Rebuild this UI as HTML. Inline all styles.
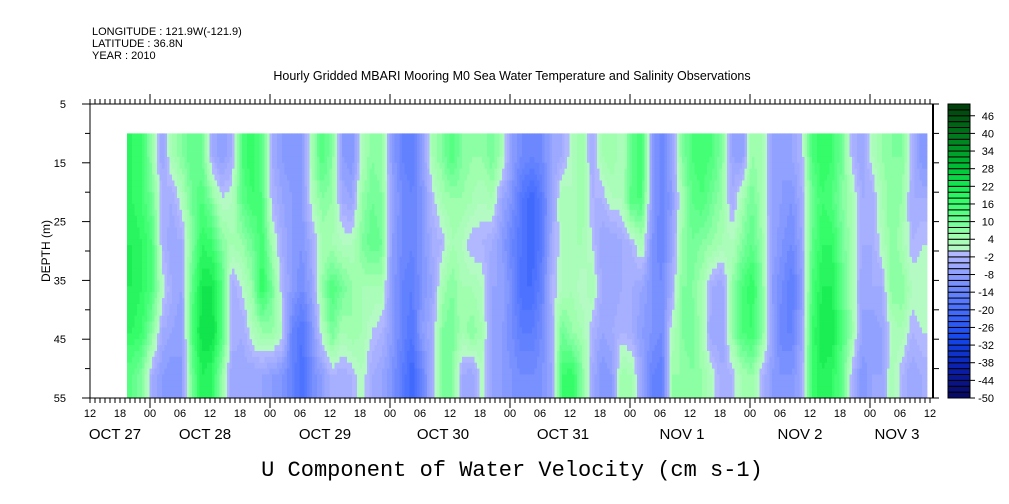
<!DOCTYPE html>
<html><head><meta charset="utf-8"><style>
body{margin:0;background:#fff;}
svg{display:block;font-family:"Liberation Sans",sans-serif;}
</style></head><body>
<svg id="chart" width="1009" height="504" xmlns="http://www.w3.org/2000/svg">
<text x="92" y="35" font-size="11">LONGITUDE : 121.9W(-121.9)</text>
<text x="92" y="47" font-size="11">LATITUDE : 36.8N</text>
<text x="92" y="59" font-size="11">YEAR : 2010</text>
<text x="512" y="80" font-size="12.5" text-anchor="middle">Hourly Gridded MBARI Mooring M0 Sea Water Temperature and Salinity Observations</text>
<g id="heat"></g>
<g id="axes"></g>
<g id="cbar"></g>
<text transform="translate(50,251) rotate(-90)" font-size="12" text-anchor="middle">DEPTH (m)</text>
<text x="512" y="476" font-size="22" font-family="Liberation Mono, monospace" text-anchor="middle">U Component of Water Velocity (cm s-1)</text>
</svg>
<script>
// data grid: columns every 2 hours starting 19.4h after Oct 27 00:00 ; rows at depths
const depths=[13.75,21.25,28.75,36.25,43.75,51.25];
const startHour=19.4, stepHour=2;
const row1=[18,16,6,-6,4,8,12,10,-4,-8,-4,14,18,12,-4,-8,-10,-8,4,14,8,-8,-10,2,8,6,-8,-14,-16,-8,4,8,14,8,6,6,10,4,-8,-12,-14,-12,-6,-4,2,6,-4,4,6,2,12,16,-8,-14,-6,8,14,16,14,8,-6,-8,6,4,-6,-8,-6,-2,14,18,16,10,-2,-6,2,6,8,8,-2,-10];
const row2=[18,16,10,-2,-4,2,10,14,8,0,2,12,16,14,-2,-6,-8,-8,2,8,6,-4,-6,6,10,8,-6,-12,-14,-10,-2,4,6,6,4,2,4,-6,-10,-18,-22,-16,-6,4,2,6,-2,-2,2,2,14,14,-8,-14,-8,4,12,14,10,6,-4,4,10,4,-6,-8,-10,-4,10,16,14,8,4,-4,-4,4,8,6,-4,-4];
const row3=[20,18,14,-2,-6,-4,8,18,16,8,4,6,10,16,4,-4,-8,-10,-4,4,4,2,2,8,12,10,-8,-12,-14,-10,-4,-2,4,2,-2,-2,-4,-8,-14,-18,-22,-16,-4,2,4,4,0,-6,-6,-4,-2,4,-10,-14,-6,6,10,8,6,4,2,8,12,6,-6,-10,-12,-6,12,18,18,10,4,-4,-4,2,8,4,-2,0];
const row4=[20,18,14,2,-4,-6,12,22,22,14,-4,0,6,18,10,-2,-8,-12,-6,6,14,10,6,4,4,4,-8,-14,-16,-10,-6,4,8,4,4,2,-6,-6,-12,-20,-20,-14,-2,2,4,0,4,-4,-6,-4,-4,-6,-10,-12,-4,8,8,4,-4,-6,6,14,18,8,-8,-12,-16,-8,14,20,20,12,4,-6,-4,-4,8,8,2,2];
const row5=[18,16,8,-4,-6,-8,14,24,24,14,-2,-4,2,6,6,2,-14,-18,-10,2,10,4,6,4,0,-2,-8,-14,-18,-8,-4,8,10,4,8,4,-6,-8,-12,-16,-16,-12,-4,10,6,4,-2,-6,-4,-2,-4,-8,-10,-12,2,8,10,4,-6,-6,6,14,16,8,-6,-14,-14,-6,16,22,22,14,6,-6,-8,-6,2,4,-2,0];
const row6=[12,8,-4,-8,-10,-8,10,20,18,6,-6,-6,-6,-6,-8,-10,-14,-20,-12,-8,-2,-4,-2,2,-4,-6,-10,-16,-22,-14,-4,8,8,-4,-6,2,-6,-8,-10,-12,-12,-10,-6,16,18,8,-4,-10,-8,6,4,-6,-14,-16,6,6,8,6,2,-4,-2,4,6,-2,-8,-10,-10,-4,16,20,18,12,-2,-10,-6,-6,4,-2,-6,-4];
const cbarLevels=[-50,-44,-38,-32,-26,-20,-14,-8,-2,4,10,16,22,28,34,40,46];
const xTickLabels=["12","18","00","06","12","18","00","06","12","18","00","06","12","18","00","06","12","18","00","06","12","18","00","06","12","18","00","06","12"];
const dateLabels=["OCT 27","OCT 28","OCT 29","OCT 30","OCT 31","NOV  1","NOV  2","NOV  3"];
const depthTicks=[5,15,25,35,45,55];

const NS="http://www.w3.org/2000/svg";
const X0=90,X1=933,Y0=104,Y1=398;
const xh=h=>X0+(h-12)*5;
const yd=d=>Y0+(d-5)*(Y1-Y0)/50;
const stops=[[-50,[8,8,96]],[-40,[10,30,170]],[-30,[20,70,235]],[-20,[70,110,255]],[-12,[115,140,255]],[-6,[150,165,255]],[-1,[178,184,255]],[1,[180,250,195]],[5,[160,255,175]],[10,[110,255,150]],[16,[60,255,110]],[22,[20,235,80]],[28,[0,195,55]],[34,[0,155,40]],[40,[0,115,25]],[50,[0,60,10]]];
function color(v){
  v=Math.max(-50,Math.min(49.9,v));
  let q=Math.floor(v/2)*2+1;
  for(let i=0;i<stops.length-1;i++){const a=stops[i],b=stops[i+1];
    if(q>=a[0]&&q<=b[0]){const t=(q-a[0])/(b[0]-a[0]);
      return "rgb("+a[1].map((c,k)=>Math.round(c+(b[1][k]-c)*t)).join(",")+")";}}
  return "rgb(0,60,10)";
}
function mk(tag,attrs,parent){const e=document.createElementNS(NS,tag);for(const k in attrs)e.setAttribute(k,attrs[k]);parent.appendChild(e);return e;}
const rows=[row1,row2,row3,row4,row5,row6];
const heat=document.getElementById('heat');
const nCols=row1.length;
function val(c,d){
  let r=0;while(r<depths.length-2&&d>depths[r+1])r++;
  let t=(d-depths[r])/(depths[r+1]-depths[r]);t=Math.max(0,Math.min(1,t));
  const c0=Math.max(0,Math.min(nCols-1,Math.floor(c))),c1=Math.min(nCols-1,c0+1);let u=Math.max(0,Math.min(1,c-c0));
  const a=rows[r][c0]*(1-t)+rows[r+1][c0]*t, b=rows[r][c1]*(1-t)+rows[r+1][c1]*t;
  return a*(1-u)+b*u;
}
const subX=4, subY=45;
for(let i=0;i<nCols*subX;i++){
  const h0=startHour+i*stepHour/subX, h1=h0+stepHour/subX;
  const cc=(i+0.5)/subX-0.5;
  for(let j=0;j<subY;j++){
    const d0=10+j*45/subY,d1=d0+45/subY;
    const v=val(cc,(d0+d1)/2);
    const r=mk('rect',{x:xh(h0).toFixed(2),y:yd(d0).toFixed(2),width:(xh(h1)-xh(h0)+0.4).toFixed(2),height:(yd(d1)-yd(d0)+0.4).toFixed(2),fill:color(v)},heat);
    
    
  }
}
const ax=document.getElementById('axes');
mk('rect',{x:X0,y:Y0,width:X1-X0,height:Y1-Y0,fill:'none',stroke:'#000','stroke-width':1},ax);
mk('line',{x1:X1,y1:Y0,x2:X1,y2:Y1,stroke:'#000','stroke-width':2},ax);
for(let h=12;h<=180;h++){
  const x=xh(h); if(x>X1+0.5)break;
  const major=(h%24===0);
  mk('line',{x1:x,y1:Y0,x2:x,y2:Y0-(major?10:5),stroke:'#000'},ax);
  mk('line',{x1:x,y1:Y1,x2:x,y2:Y1+(major?10:5),stroke:'#000'},ax);
}
xTickLabels.forEach((s,i)=>{const t=mk('text',{x:xh(12+i*6),y:417,'font-size':11,'text-anchor':'middle'},ax);t.textContent=s;
  });
const datePos=[115,205,325,443,563,682,800,897];
dateLabels.forEach((s,i)=>{const t=mk('text',{x:datePos[i],y:439,'font-size':15,'text-anchor':'middle','xml:space':'preserve'},ax);t.textContent=s;
  });
for(let d=5;d<=55;d+=5){const y=yd(d);
  mk('line',{x1:X0,y1:y,x2:X0-(d%10===5?8:5),y2:y,stroke:'#000'},ax);
  mk('line',{x1:X1,y1:y,x2:X1+6,y2:y,stroke:'#000'},ax);}
depthTicks.forEach(d=>{const t=mk('text',{x:66,y:yd(d)+4,'font-size':11,'text-anchor':'end'},ax);t.textContent=d;
  });
const cb=document.getElementById('cbar');
const CX=948,CW=22,cy=v=>Y1-(v+50)*(Y1-Y0)/100;
for(let v=-50;v<50;v+=2){
  const r=mk('rect',{x:CX,y:cy(v+2),width:CW,height:cy(v)-cy(v+2),fill:color(v+1),stroke:'#000','stroke-width':1},cb);
  
}
cbarLevels.forEach(v=>{const y=cy(v);
  mk('line',{x1:CX+CW,y1:y,x2:CX+CW+5,y2:y,stroke:'#000'},cb);
  const t=mk('text',{x:994,y:y+4,'font-size':11,'text-anchor':'end'},cb);t.textContent=v;
  });
</script>
</body></html>
